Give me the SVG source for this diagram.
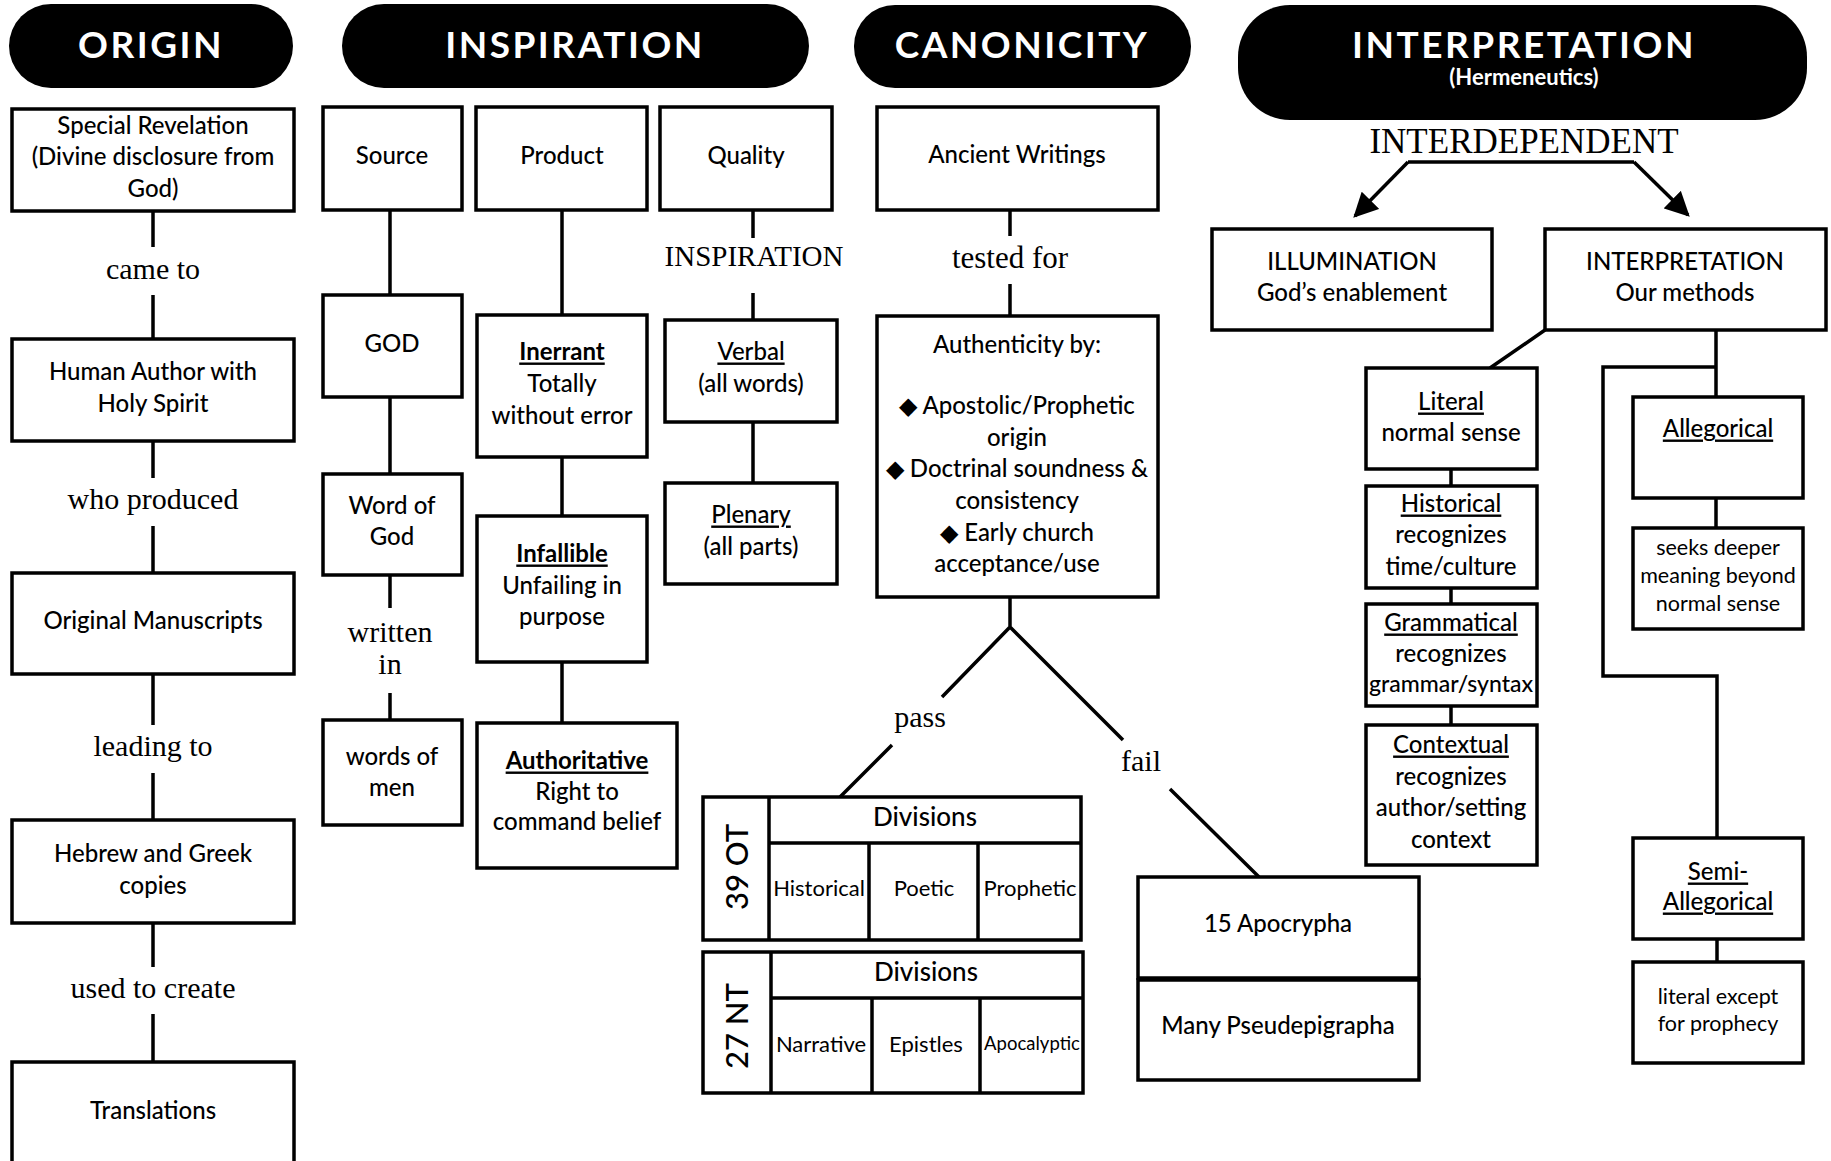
<svg xmlns="http://www.w3.org/2000/svg" width="1831" height="1161" viewBox="0 0 1831 1161">
<style>
.bx{fill:#fff;stroke:#000;stroke-width:3.5}
.ln{stroke:#000;stroke-width:3.5;fill:none}
.pill{fill:#000}
text{fill:#000;text-anchor:middle;dominant-baseline:central}
.t{font-family:Lato,"Noto Sans",sans-serif;font-size:24px;font-weight:500}
.sm{font-family:Lato,"Noto Sans",sans-serif;font-size:21.5px}
.c{font-family:Lato,"Noto Sans",sans-serif;font-size:22px}
.s{font-family:"Liberation Serif",serif;font-size:30px}
.h{font-family:Lato,"Noto Sans",sans-serif;font-weight:bold;font-size:37px;fill:#fff;letter-spacing:2.5px}
.hs{font-family:Lato,"Noto Sans",sans-serif;font-weight:bold;font-size:22px;fill:#fff}
.u{text-decoration:underline}
.b{font-weight:bold}
</style>
<defs>
<marker id="ar" viewBox="0 0 10 10" refX="9" refY="5" markerWidth="7" markerHeight="7" markerUnits="strokeWidth" orient="auto">
<path d="M0,0 L10,5 L0,10 z" fill="#000"/>
</marker>
</defs>
<rect width="1831" height="1161" fill="#fff"/>

<g id="connectors">
<path class="ln" d="M153,211V247M153,295V339M153,441V478M153,526V573M153,674V725M153,773V820M153,923V967M153,1014V1062"/>
<path class="ln" d="M390,210V295M390,397V474M390,575V608M390,693V720"/>
<path class="ln" d="M562,210V315M562,457V516M562,662V723"/>
<path class="ln" d="M753,210V238M753,293V320M753,422V483"/>
<path class="ln" d="M1010,210V236M1010,284V316M1010,597V627L942,697M892,745L840,797M1010,627L1123,740M1170,789L1259,877"/>
<path class="ln" d="M1408,162H1634"/>
<path class="ln" d="M1408,162L1355,216" marker-end="url(#ar)"/>
<path class="ln" d="M1634,162L1688,215" marker-end="url(#ar)"/>
<path class="ln" d="M1545,330L1490,368M1451,469V486M1451,588V604M1451,706V725"/>
<path class="ln" d="M1716,330V397M1716,367H1603V676H1717V838M1716,498V528M1717,939V962"/>
</g>

<g id="header-origin"><rect class="pill" x="9" y="4" width="284" height="84" rx="42"/><text class="h" x="151" y="43">ORIGIN</text></g>
<g id="header-inspiration"><rect class="pill" x="342" y="4" width="467" height="84" rx="42"/><text class="h" x="575" y="43">INSPIRATION</text></g>
<g id="header-canonicity"><rect class="pill" x="854" y="5" width="337" height="83" rx="41"/><text class="h" x="1022" y="43">CANONICITY</text></g>
<g id="header-interpretation"><rect class="pill" x="1238" y="5" width="569" height="115" rx="52"/><text class="h" x="1524" y="43">INTERPRETATION</text><text class="hs" x="1524" y="76">(Hermeneutics)</text></g>

<g id="special-revelation"><rect class="bx" x="12" y="109" width="282" height="102"/><text class="t" x="153" y="124">Special Revelation</text><text class="t" x="153" y="155">(Divine disclosure from</text><text class="t" x="153" y="187">God)</text></g>
<text class="s" x="153" y="268">came to</text>
<g id="human-author"><rect class="bx" x="12" y="339" width="282" height="102"/><text class="t" x="153" y="370">Human Author with</text><text class="t" x="153" y="402">Holy Spirit</text></g>
<text class="s" x="153" y="498">who produced</text>
<g id="original-manuscripts"><rect class="bx" x="12" y="573" width="282" height="101"/><text class="t" x="153" y="619">Original Manuscripts</text></g>
<text class="s" x="153" y="745">leading to</text>
<g id="hebrew-greek"><rect class="bx" x="12" y="820" width="282" height="103"/><text class="t" x="153" y="852">Hebrew and Greek</text><text class="t" x="153" y="884">copies</text></g>
<text class="s" x="153" y="987">used to create</text>
<g id="translations"><rect class="bx" x="12" y="1062" width="282" height="112"/><text class="t" x="153" y="1109">Translations</text></g>

<g id="source"><rect class="bx" x="323" y="107" width="139" height="103"/><text class="t" x="392" y="154">Source</text></g>
<g id="god"><rect class="bx" x="323" y="295" width="139" height="102"/><text class="t" x="392" y="342">GOD</text></g>
<g id="word-of-god"><rect class="bx" x="323" y="474" width="139" height="101"/><text class="t" x="392" y="504">Word of</text><text class="t" x="392" y="535">God</text></g>
<text class="s" x="390" y="631">written</text><text class="s" x="390" y="663">in</text>
<g id="words-of-men"><rect class="bx" x="323" y="720" width="139" height="105"/><text class="t" x="392" y="755">words of</text><text class="t" x="392" y="786">men</text></g>

<g id="product"><rect class="bx" x="476" y="107" width="171" height="103"/><text class="t" x="562" y="154">Product</text></g>
<g id="inerrant"><rect class="bx" x="477" y="315" width="170" height="142"/><text class="t b u" x="562" y="350">Inerrant</text><text class="t" x="562" y="382">Totally</text><text class="t" x="562" y="414">without error</text></g>
<g id="infallible"><rect class="bx" x="477" y="516" width="170" height="146"/><text class="t b u" x="562" y="552">Infallible</text><text class="t" x="562" y="584">Unfailing in</text><text class="t" x="562" y="615">purpose</text></g>
<g id="authoritative"><rect class="bx" x="477" y="723" width="200" height="145"/><text class="t b u" x="577" y="759">Authoritative</text><text class="t" x="577" y="790">Right to</text><text class="t" x="577" y="820">command belief</text></g>

<g id="quality"><rect class="bx" x="660" y="107" width="172" height="103"/><text class="t" x="746" y="154">Quality</text></g>
<text class="s" x="754" y="256" style="font-size:29px">INSPIRATION</text>
<g id="verbal"><rect class="bx" x="665" y="320" width="172" height="102"/><text class="t u" x="751" y="350">Verbal</text><text class="t" x="751" y="382">(all words)</text></g>
<g id="plenary"><rect class="bx" x="665" y="483" width="172" height="101"/><text class="t u" x="751" y="513">Plenary</text><text class="t" x="751" y="545">(all parts)</text></g>

<g id="ancient-writings"><rect class="bx" x="877" y="107" width="281" height="103"/><text class="t" x="1017" y="153">Ancient Writings</text></g>
<text class="s" x="1010" y="257" style="font-size:31px">tested for</text>
<g id="authenticity"><rect class="bx" x="877" y="316" width="281" height="281"/>
<text class="t" x="1017" y="343">Authenticity by:</text>
<text class="t" x="1017" y="404">◆ Apostolic/Prophetic</text>
<text class="t" x="1017" y="436">origin</text>
<text class="t" x="1017" y="467">◆ Doctrinal soundness &amp;</text>
<text class="t" x="1017" y="499">consistency</text>
<text class="t" x="1017" y="531">◆ Early church</text>
<text class="t" x="1017" y="562">acceptance/use</text></g>
<text class="s" x="920" y="716">pass</text>
<text class="s" x="1141" y="760">fail</text>

<g id="ot-table">
<rect class="bx" x="703" y="797" width="378" height="143"/>
<path class="ln" d="M769,797V940M769,843H1081M869,843V940M978,843V940"/>
<text class="t" x="736" y="867" transform="rotate(-90 736 867)" style="font-size:31px">39 OT</text>
<text class="t" x="925" y="816" style="font-size:26px">Divisions</text>
<text class="c" x="819" y="887">Historical</text>
<text class="c" x="924" y="887">Poetic</text>
<text class="c" x="1030" y="887">Prophetic</text>
</g>
<g id="nt-table">
<rect class="bx" x="703" y="952" width="380" height="141"/>
<path class="ln" d="M771,952V1093M771,998H1083M872,998V1093M980,998V1093"/>
<text class="t" x="736" y="1026" transform="rotate(-90 736 1026)" style="font-size:31px">27 NT</text>
<text class="t" x="926" y="971" style="font-size:26px">Divisions</text>
<text class="c" x="821" y="1043">Narrative</text>
<text class="c" x="926" y="1043">Epistles</text>
<text class="c" x="1032" y="1043" style="font-size:18.5px">Apocalyptic</text>
</g>

<g id="apocrypha"><rect class="bx" x="1138" y="877" width="281" height="101"/><text class="t" x="1278" y="922">15 Apocrypha</text></g>
<g id="pseudepigrapha"><rect class="bx" x="1138" y="980" width="281" height="100"/><text class="t" x="1278" y="1024">Many Pseudepigrapha</text></g>

<text class="s" x="1524" y="141" style="font-size:35px">INTERDEPENDENT</text>
<g id="illumination"><rect class="bx" x="1212" y="229" width="280" height="101"/><text class="t" x="1352" y="260">ILLUMINATION</text><text class="t" x="1352" y="291">God’s enablement</text></g>
<g id="interpretation-methods"><rect class="bx" x="1545" y="229" width="281" height="101"/><text class="t" x="1685" y="260">INTERPRETATION</text><text class="t" x="1685" y="291">Our methods</text></g>

<g id="literal"><rect class="bx" x="1366" y="368" width="171" height="101"/><text class="t u" x="1451" y="400">Literal</text><text class="t" x="1451" y="431">normal sense</text></g>
<g id="historical"><rect class="bx" x="1366" y="486" width="171" height="102"/><text class="t u" x="1451" y="502">Historical</text><text class="t" x="1451" y="533">recognizes</text><text class="t" x="1451" y="565">time/culture</text></g>
<g id="grammatical"><rect class="bx" x="1366" y="604" width="171" height="102"/><text class="t u" x="1451" y="621">Grammatical</text><text class="t" x="1451" y="652">recognizes</text><text class="t" x="1451" y="683" style="font-size:23px">grammar/syntax</text></g>
<g id="contextual"><rect class="bx" x="1366" y="725" width="171" height="140"/><text class="t u" x="1451" y="743">Contextual</text><text class="t" x="1451" y="775">recognizes</text><text class="t" x="1451" y="806">author/setting</text><text class="t" x="1451" y="838">context</text></g>

<g id="allegorical"><rect class="bx" x="1633" y="397" width="170" height="101"/><text class="t u" x="1718" y="427">Allegorical</text></g>
<g id="seeks-deeper"><rect class="bx" x="1633" y="528" width="170" height="101"/><text class="sm" x="1718" y="547">seeks deeper</text><text class="sm" x="1718" y="575">meaning beyond</text><text class="sm" x="1718" y="603">normal sense</text></g>
<g id="semi-allegorical"><rect class="bx" x="1633" y="838" width="170" height="101"/><text class="t u" x="1718" y="870">Semi-</text><text class="t u" x="1718" y="900">Allegorical</text></g>
<g id="literal-except"><rect class="bx" x="1633" y="962" width="170" height="101"/><text class="sm" x="1718" y="996">literal except</text><text class="sm" x="1718" y="1023">for prophecy</text></g>
</svg>
